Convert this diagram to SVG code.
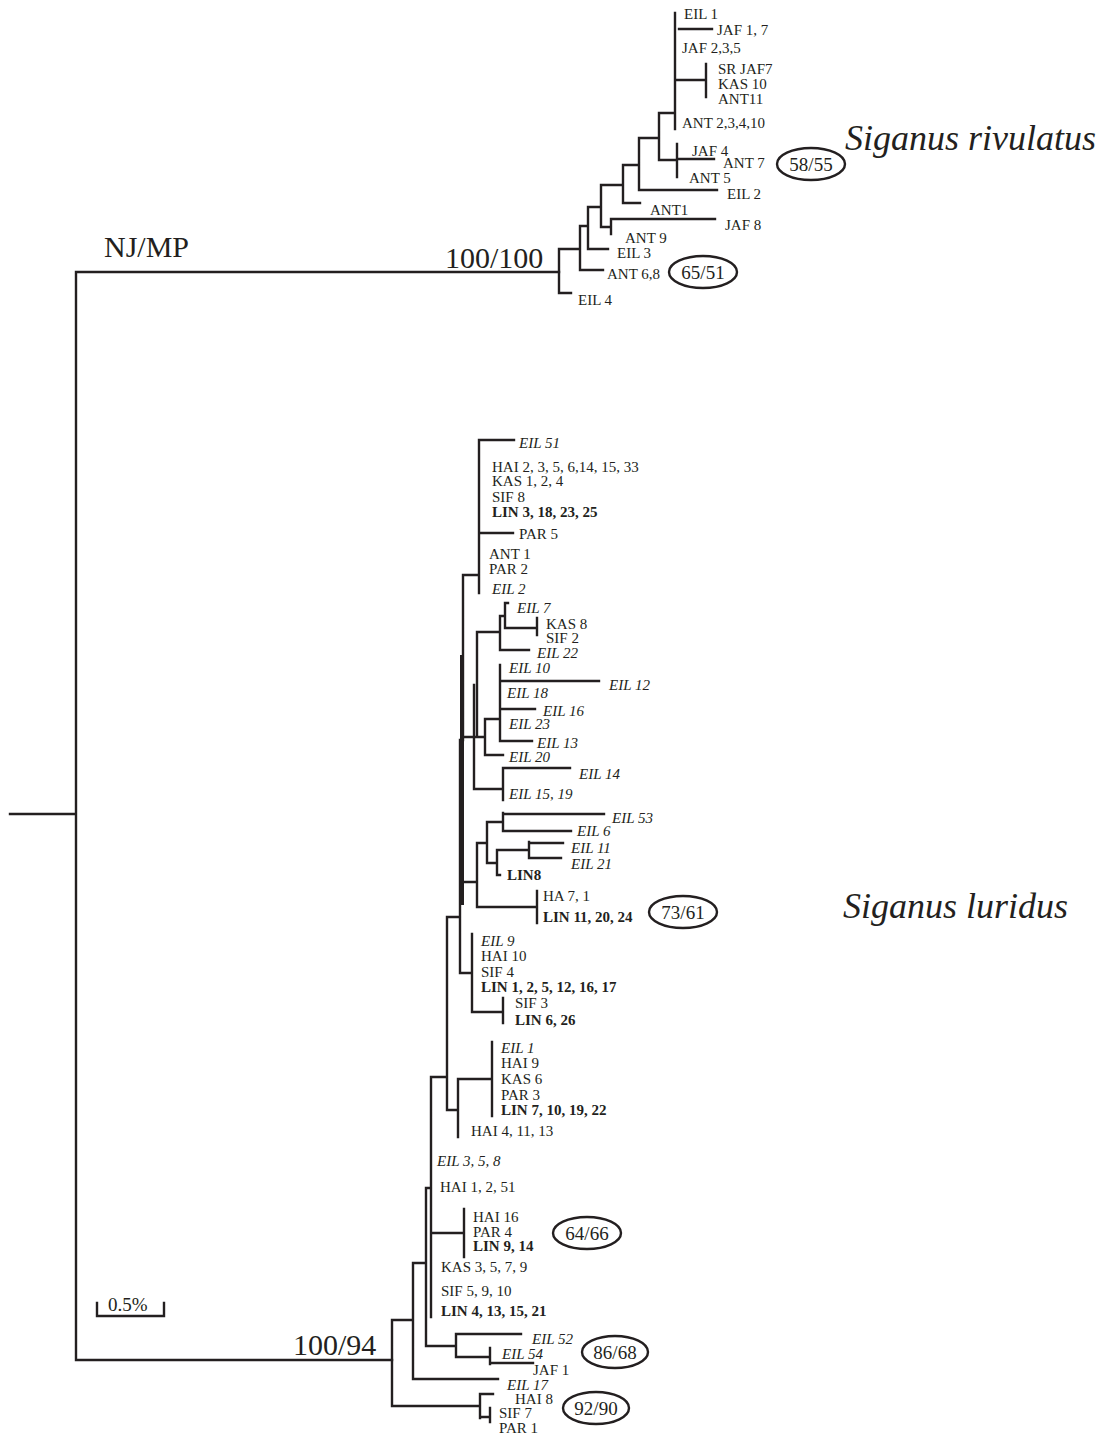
<svg xmlns="http://www.w3.org/2000/svg" width="1103" height="1437" viewBox="0 0 1103 1437">
<style>
.b{fill:none;stroke:#231f20;stroke-width:2.4;stroke-linecap:square}
.t{font-family:"Liberation Serif","Times New Roman",serif;font-size:15px;fill:#231f20}
.i{font-style:italic}
.bd{font-weight:bold}
.sp{font-family:"Liberation Serif","Times New Roman",serif;font-style:italic;font-size:36px;fill:#231f20}
.big{font-family:"Liberation Serif","Times New Roman",serif;font-size:30px;fill:#231f20}
.ov{fill:none;stroke:#231f20;stroke-width:2.4}
.ot{font-family:"Liberation Serif","Times New Roman",serif;font-size:19px;fill:#231f20;text-anchor:middle}
</style>
<rect width="1103" height="1437" fill="#ffffff"/>
<g id="connectors">
<path class="b" d="M10 814H76M76 272V1360M76 272H559M76 1360H392"/>
<path class="b" d="M559 249V293M559 293H571M559 249H580M580 226V270M580 270H603M580 226H588M588 207V249M588 249H608M588 207H601M601 185V227M601 227H611M611 219V234M611 219H715M601 185H623M623 165V203M623 203H640M623 165H639M639 138V190M639 190H717M639 138H659M659 113V160M659 160H677M677 144V177M677 159H714M659 113H675M675 13V129M679 29H712M675 80H706M706 64V97"/>
<path class="b" d="M392 1320V1406M392 1320H413M392 1406H480M413 1263V1379M413 1379H498M413 1263H426M426 1188V1346M426 1346H456M456 1334V1357M456 1334H521M456 1357H490M490 1348V1364M490 1363H533M480 1394V1418M480 1394H493M480 1417H490M490 1408V1422M426 1188H431M431 1077V1317M431 1233H464M464 1209V1257M431 1077H447M447 917V1110M447 1110H458M458 1079V1137M458 1079H492M492 1042V1116M447 917H460M460 740V973M460 973H472M472 934V1012M472 1012H503M503 998V1023M460 882H477M477 843V907M477 907H537M537 891V923M477 843H487M487 822V863M487 822H503M503 813V831M503 814H604M503 831H571M487 863H497M497 850V875M497 875H500M497 850H529M529 842V858M529 843H563M529 858H561"/>
<path class="b" d="M463 575V740M463 575H479M479 440V593M479 440H514M479 533H513M463 737H485M485 719V755M485 755H503M485 719H500M500 665V741M500 681H599M500 709H535M500 741H532M477 632V737M477 632H500M500 616V650M500 650H529M500 616H505M505 603V628M505 603H508M505 628H537M537 618V635M474 685V789M474 789H503M503 768V800M503 768H570"/>
<path d="M462 655V905" stroke="#231f20" stroke-width="4" fill="none"/>
<path class="b" d="M97 1303V1316H164V1303"/>
</g>
<g id="labels-main">
<text class="big" x="104" y="257">NJ/MP</text>
<text class="big" x="445" y="268">100/100</text>
<text class="big" x="293" y="1355">100/94</text>
<text class="t" x="108" y="1311" style="font-size:19px">0.5%</text>
<text class="sp" x="845" y="150">Siganus rivulatus</text>
<text class="sp" x="843" y="918">Siganus luridus</text>
</g>
<g id="rivulatus">
<text class="t" x="684" y="19">EIL 1</text>
<text class="t" x="717" y="35">JAF 1, 7</text>
<text class="t" x="682" y="53">JAF 2,3,5</text>
<text class="t" x="718" y="74">SR JAF7</text>
<text class="t" x="718" y="89">KAS 10</text>
<text class="t" x="718" y="104">ANT11</text>
<text class="t" x="682" y="128">ANT 2,3,4,10</text>
<text class="t" x="692" y="156">JAF 4</text>
<text class="t" x="723" y="168">ANT 7</text>
<text class="t" x="689" y="183">ANT 5</text>
<text class="t" x="727" y="199">EIL 2</text>
<text class="t" x="650" y="215">ANT1</text>
<text class="t" x="725" y="230">JAF 8</text>
<text class="t" x="625" y="243">ANT 9</text>
<text class="t" x="617" y="258">EIL 3</text>
<text class="t" x="607" y="279">ANT 6,8</text>
<text class="t" x="578" y="305">EIL 4</text>
</g>
<g id="support-58-55"><ellipse class="ov" cx="811" cy="164" rx="34" ry="16"/><text class="ot" x="811" y="171">58/55</text></g>
<g id="support-65-51"><ellipse class="ov" cx="703" cy="272" rx="34" ry="16"/><text class="ot" x="703" y="279">65/51</text></g>
<g id="luridus">
<text class="t i" x="519" y="448">EIL 51</text>
<text class="t" x="492" y="472">HAI 2, 3, 5, 6,14, 15, 33</text>
<text class="t" x="492" y="486">KAS 1, 2, 4</text>
<text class="t" x="492" y="502">SIF 8</text>
<text class="t bd" x="492" y="517">LIN 3, 18, 23, 25</text>
<text class="t" x="519" y="539">PAR 5</text>
<text class="t" x="489" y="559">ANT 1</text>
<text class="t" x="489" y="574">PAR 2</text>
<text class="t i" x="492" y="594">EIL 2</text>
<text class="t i" x="517" y="613">EIL 7</text>
<text class="t" x="546" y="629">KAS 8</text>
<text class="t" x="546" y="643">SIF 2</text>
<text class="t i" x="537" y="658">EIL 22</text>
<text class="t i" x="509" y="673">EIL 10</text>
<text class="t i" x="609" y="690">EIL 12</text>
<text class="t i" x="507" y="698">EIL 18</text>
<text class="t i" x="543" y="716">EIL 16</text>
<text class="t i" x="509" y="729">EIL 23</text>
<text class="t i" x="537" y="748">EIL 13</text>
<text class="t i" x="509" y="762">EIL 20</text>
<text class="t i" x="579" y="779">EIL 14</text>
<text class="t i" x="509" y="799">EIL 15, 19</text>
<text class="t i" x="612" y="823">EIL 53</text>
<text class="t i" x="577" y="836">EIL 6</text>
<text class="t i" x="571" y="853">EIL 11</text>
<text class="t i" x="571" y="869">EIL 21</text>
<text class="t bd" x="507" y="880">LIN8</text>
<text class="t" x="543" y="901">HA 7, 1</text>
<text class="t bd" x="543" y="922">LIN 11, 20, 24</text>
<text class="t i" x="481" y="946">EIL 9</text>
<text class="t" x="481" y="961">HAI 10</text>
<text class="t" x="481" y="977">SIF 4</text>
<text class="t bd" x="481" y="992">LIN 1, 2, 5, 12, 16, 17</text>
<text class="t" x="515" y="1008">SIF 3</text>
<text class="t bd" x="515" y="1025">LIN 6, 26</text>
<text class="t i" x="501" y="1053">EIL 1</text>
<text class="t" x="501" y="1068">HAI 9</text>
<text class="t" x="501" y="1084">KAS 6</text>
<text class="t" x="501" y="1100">PAR 3</text>
<text class="t bd" x="501" y="1115">LIN 7, 10, 19, 22</text>
<text class="t" x="471" y="1136">HAI 4, 11, 13</text>
<text class="t i" x="437" y="1166">EIL 3, 5, 8</text>
<text class="t" x="440" y="1192">HAI 1, 2, 51</text>
<text class="t" x="473" y="1222">HAI 16</text>
<text class="t" x="473" y="1237">PAR 4</text>
<text class="t bd" x="473" y="1251">LIN 9, 14</text>
<text class="t" x="441" y="1272">KAS 3, 5, 7, 9</text>
<text class="t" x="441" y="1296">SIF 5, 9, 10</text>
<text class="t bd" x="441" y="1316">LIN 4, 13, 15, 21</text>
<text class="t i" x="532" y="1344">EIL 52</text>
<text class="t i" x="502" y="1359">EIL 54</text>
<text class="t" x="533" y="1375">JAF 1</text>
<text class="t i" x="507" y="1390">EIL 17</text>
<text class="t" x="515" y="1404">HAI 8</text>
<text class="t" x="499" y="1418">SIF 7</text>
<text class="t" x="499" y="1433">PAR 1</text>
</g>
<g id="support-73-61"><ellipse class="ov" cx="683" cy="912" rx="34" ry="16"/><text class="ot" x="683" y="919">73/61</text></g>
<g id="support-64-66"><ellipse class="ov" cx="587" cy="1233" rx="34" ry="16"/><text class="ot" x="587" y="1240">64/66</text></g>
<g id="support-86-68"><ellipse class="ov" cx="615" cy="1352" rx="33" ry="16"/><text class="ot" x="615" y="1359">86/68</text></g>
<g id="support-92-90"><ellipse class="ov" cx="596" cy="1408" rx="33" ry="16"/><text class="ot" x="596" y="1415">92/90</text></g>
</svg>
